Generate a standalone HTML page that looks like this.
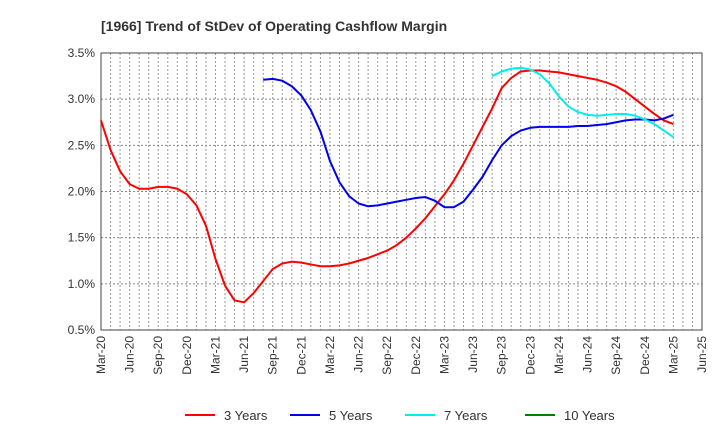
<!DOCTYPE html>
<html><head><meta charset="utf-8"><style>
body{margin:0;background:#fff;font-family:"Liberation Sans",sans-serif}
</style></head><body>
<svg id="c" width="720" height="440" xmlns="http://www.w3.org/2000/svg">
<text x="101" y="31" font-size="14" font-weight="bold" fill="#333">[1966]  Trend of StDev of Operating Cashflow Margin</text>
<g id="grid"></g><g id="axes"></g><g id="series"></g><g id="legend"></g>
</svg>
<script>
const xTickLabels=["Mar-20","Jun-20","Sep-20","Dec-20","Mar-21","Jun-21","Sep-21","Dec-21","Mar-22","Jun-22","Sep-22","Dec-22","Mar-23","Jun-23","Sep-23","Dec-23","Mar-24","Jun-24","Sep-24","Dec-24","Mar-25","Jun-25"];
const yTicks=[0.5,1.0,1.5,2.0,2.5,3.0,3.5];
const y3=[2.77,2.45,2.22,2.08,2.03,2.03,2.05,2.05,2.03,1.97,1.85,1.63,1.27,0.98,0.82,0.80,0.90,1.03,1.16,1.22,1.24,1.23,1.21,1.19,1.19,1.20,1.22,1.25,1.28,1.32,1.36,1.42,1.50,1.60,1.71,1.84,1.97,2.12,2.30,2.50,2.70,2.90,3.12,3.23,3.30,3.31,3.31,3.30,3.29,3.27,3.25,3.23,3.21,3.18,3.14,3.08,3.00,2.92,2.84,2.77,2.73];
const y5Start=17;
const y5=[3.21,3.22,3.20,3.14,3.04,2.88,2.65,2.33,2.10,1.95,1.87,1.84,1.85,1.87,1.89,1.91,1.93,1.94,1.90,1.83,1.83,1.89,2.02,2.16,2.34,2.50,2.60,2.66,2.69,2.70,2.70,2.70,2.70,2.71,2.71,2.72,2.73,2.75,2.77,2.78,2.78,2.77,2.79,2.83];
const y7Start=41;
const y7=[3.25,3.30,3.33,3.34,3.32,3.27,3.17,3.03,2.92,2.86,2.83,2.82,2.83,2.84,2.84,2.82,2.78,2.73,2.66,2.59];
const y10Start=60;
const y10=[];
const L=101,R=702,T=53,B=330,months=63;
const X=i=>L+(R-L)*i/months;
const Y=v=>B-(v-0.5)/3*(B-T);
const NS="http://www.w3.org/2000/svg";
function mk(p,tag,a){const e=document.createElementNS(NS,tag);for(const k in a)e.setAttribute(k,a[k]);p.appendChild(e);return e;}
const grid=document.getElementById('grid'),axes=document.getElementById('axes'),ser=document.getElementById('series'),leg=document.getElementById('legend');
for(let m=1;m<months;m++){const l=mk(grid,'line',{x1:X(m),x2:X(m),y1:T,y2:B,stroke:'#999','stroke-dasharray':'2,2','stroke-width':1});

}
yTicks.forEach(v=>{const l=mk(grid,'line',{x1:L,x2:R,y1:Y(v),y2:Y(v),stroke:'#888','stroke-dasharray':'2,2','stroke-width':1});


const t=mk(axes,'text',{x:L-6,y:Y(v)+4,'text-anchor':'end','font-size':12,fill:'#333'});t.textContent=v.toFixed(1)+'%';

});
const fr=mk(axes,'rect',{x:L,y:T,width:R-L,height:B-T,fill:'none',stroke:'#444','stroke-width':1});


xTickLabels.forEach((s,i)=>{const x=X(i*3);const t=mk(axes,'text',{transform:`translate(${x+4},${B+6}) rotate(-90)`,'text-anchor':'end','font-size':12,fill:'#333'});t.textContent=s;

});
function line(vals,start,color,name){if(!vals.length)return;const p=mk(ser,'polyline',{points:vals.map((v,i)=>X(start+i)+','+Y(v)).join(' '),fill:'none',stroke:color,'stroke-width':2,'stroke-linejoin':'round'});

}
line(y3,0,'#ff0000','line-3-years');
line(y5,y5Start,'#0000ee','line-5-years');
line(y7,y7Start,'#00eeee','line-7-years');
line(y10,y10Start,'#008000','line-10-years');
const legItems=[["3 Years","#ff0000",185],["5 Years","#0000ee",290],["7 Years","#00eeee",405],["10 Years","#008000",525]];
legItems.forEach(([s,c,x])=>{const g=mk(leg,'g',{});


mk(g,'line',{x1:x,x2:x+30,y1:415,y2:415,stroke:c,'stroke-width':2});
const t=mk(g,'text',{x:x+39,y:420,'font-size':13,fill:'#333'});t.textContent=s;});
</script>
</body></html>
